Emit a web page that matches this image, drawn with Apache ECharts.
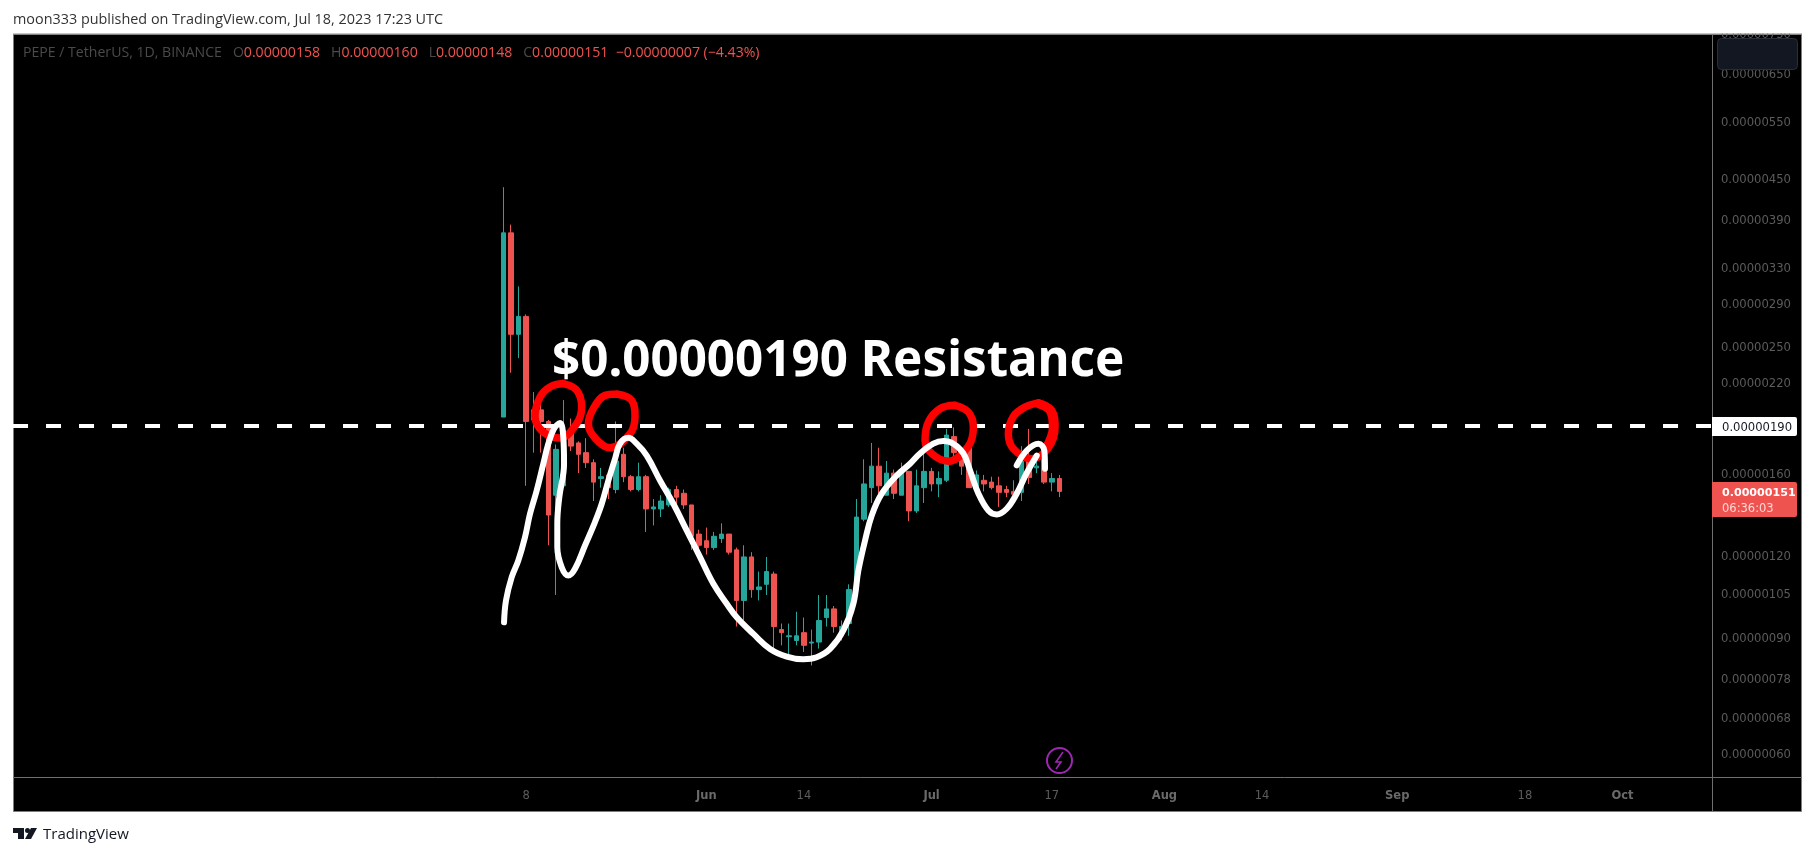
<!DOCTYPE html>
<html>
<head>
<meta charset="utf-8">
<title>PEPE / TetherUS</title>
<script src="https://cdn.jsdelivr.net/npm/echarts@6/dist/echarts.min.js"></script>
<style>
  html, body { margin: 0; padding: 0; background: #fff; }
  #chart { width: 1815px; height: 856px; }
</style>
</head>
<body>
<div id="chart"></div>
<script>
// prices are kept in units of 0.00000001 USDT, days are counted from the first candle (May 5)
var openV = [196,374,262,279,194,201,193,149,154,186,179,173,167,158,160,152,172,159,152,159,142,142,144,152,150,144,130,127,124,128,130,123,103,120,107,109,113,93,90.7,89.5,92,88.7,89,97,100,92,95,107,137,153,165,149,161,149,162,141,153,162,155,157,183,172,177,153,157,156,154,152,151,150.5,168,164,176,156,158];
var closeV = [374,262,279,193,201,193,139,175,187,177,172,167,156,159,153,168,159,152,159,142,143,146,152,148,144,129,125,124,129,130,122,103,120,107,108,114,94,92,91,91,88,89,96,100,94,94,107,138,155,165,154,161,150,162,141,154,162,155,158,184,173,165,153,160,155,153,150.5,150.5,149.5,168,158.5,165,156,158,151];
var lowV = [196,229,241,154,173,173,125,105,154,174,161,164,146,153,147,150,156,151,151,131,134,138,143,143,142,123,123,121,123,126,121,94,96,104,103,105,87,88,85,88,86,82,87,94,92,89.5,91,107,136,145,149,149,147,149,136,140,145,151,148,156,171,160,153,151.5,151,152,143,148,145,146,155,161,155,151,148];
var highV = [439,385,310,281,214,206,194,178,208,195,180,182,169,164,161,193,176,160,167,160,147,149,153,154,152,144,132,133,131,135,130,124,125,122,114,120,114,95,95,99,97,93,105,105,101,96,109,147,169,179,176,168,163,167,162,163,172,164,162,188,189,176,178,162.5,160,159,159,154,157,177,188,172,178,161,160];

var axisStartDate = '2023-03-01';
var dayCount = 226;
var firstCandleIndex = 65;

var priceTicks = [750,650,550,450,390,330,290,250,220,190,160,140,120,105,90,78,68,60];
var dateTicks = { '2023-05-08': '8', '2023-06-14': '14', '2023-07-17': '17', '2023-08-14': '14', '2023-09-18': '18' };
var monthTicks = { '2023-06-01': 'Jun', '2023-07-01': 'Jul', '2023-08-01': 'Aug', '2023-09-01': 'Sep', '2023-10-01': 'Oct' };

var resistancePrice = 190;
var lastPrice = 151;

// hand drawn strokes, [days from May 5, price]
var cupStroke = [[0.07,95.4],[0.33,103],[1.09,111.8],[1.97,118.5],[2.86,128.6],[3.53,139.6],[4.42,151.5],[5.3,166.4],[5.97,178.5],[6.72,188.1],[7.52,191.9],[7.96,182.7],[8.06,166.4],[7.43,148],[7.16,134.8],[7.16,124.2],[7.75,115.7],[8.63,112.4],[9.52,115.1],[10.85,124.9],[12.18,135.6],[13.08,144.6],[13.96,156.9],[14.85,169.3],[15.51,178.5],[16.62,182.2],[17.73,178.5],[19.07,171.2],[20.84,156.9],[22.61,144.6],[24.39,131.7],[26.17,119.9],[27.94,109.2],[29.72,101.8],[31.05,97.1],[33.27,91.6],[35.49,86.9],[37.71,84.6],[39.92,83.8],[41.7,84.4],[43.48,86.9],[45.25,92.7],[46.58,101.8],[47.25,114.4],[48.14,127.1],[49.03,138.8],[50.36,149.8],[52.36,159.7],[54.13,166.4],[55.46,172.5],[57.23,178.5],[58.56,180.2],[59.9,178.5],[61.23,172.5],[62.12,162.5],[63.24,149.8],[64.56,141.2],[65.67,139.3],[67,142.1],[68.33,149.8],[69.67,161.1],[71,171.2]];
var hookStroke = [[68.33,165.4],[69.67,174.3],[71.21,178.5],[72.01,174.3],[72.1,163.5]];
var circleA = [[7.96,220.4],[9.74,215.3],[10.41,203],[9.74,191.5],[7.52,182.1],[5.3,185.9],[4.19,196.4],[4.86,210.2],[6.19,217.8],[7.96,220.4]];
var circleB = [[15.07,212.5],[17.07,207.8],[17.51,196.4],[16.84,184.8],[14.18,176],[12.18,182.1],[11.3,191.5],[11.96,201.9],[13.52,211.5],[15.07,212.5]];
var circleC = [[60.12,204.2],[61.9,199.4],[62.56,189.2],[61.9,176.9],[59.23,167.9],[57.01,172.5],[56.13,180.6],[56.57,192.6],[58.12,201.8],[60.12,204.2]];
var circleD = [[71.22,206],[72.99,200.6],[73.44,189.2],[72.55,176],[70.33,169.3],[67.89,175.4],[67.22,184.8],[67.89,196.4],[69.44,203],[71.22,206]];
// the pen went over this side twice
var circleDHeavy = [[71.22,205.4],[72.8,200.4],[73.2,189.2],[72.4,177]];

function fmtPrice(v) {
    return (v / 1e8).toFixed(8);
}

var categories = [];
var d0 = new Date(axisStartDate + 'T00:00:00Z');
for (var i = 0; i < dayCount; i++) {
    categories.push(new Date(d0.getTime() + i * 86400000).toISOString().slice(0, 10));
}

var candles = [];
for (var i = 0; i < firstCandleIndex; i++) {
    candles.push('-');
}
for (var i = 0; i < openV.length; i++) {
    candles.push([openV[i], closeV[i], lowV[i], highV[i]]);
}

function strokeSeries(points, color, width) {
    return {
        type: 'line',
        xAxisIndex: 1,
        yAxisIndex: 0,
        data: points,
        smooth: 0.4,
        symbol: 'none',
        silent: true,
        z: 5,
        lineStyle: { color: color, width: width, cap: 'round', join: 'round' }
    };
}

var FONT = '"DejaVu Sans", sans-serif';
var TEXT_FONT = '"Open Sans", sans-serif';
var GREY = '#5c5c5c';
var LINE = '#6f6f6f';

var option = {
    animation: false,
    backgroundColor: '#ffffff',
    grid: { left: 11.6, top: 34.5, width: 1697.3, height: 743, containLabel: false },
    xAxis: [{
        type: 'category',
        data: categories,
        position: 'bottom',
        axisLine: { show: true, onZero: false, lineStyle: { color: LINE, width: 1 } },
        axisTick: { show: false },
        splitLine: { show: false },
        axisLabel: {
            margin: 13,
            interval: function (idx, val) { return !!(dateTicks[val] || monthTicks[val]); },
            formatter: function (val) {
                return monthTicks[val] ? '{m|' + monthTicks[val] + '}' : '{d|' + dateTicks[val] + '}';
            },
            rich: {
                m: { color: '#6a6a6a', fontFamily: FONT, fontSize: 11.5, fontWeight: 'bold' },
                d: { color: GREY, fontFamily: FONT, fontSize: 11.5 }
            }
        }
    }, {
        type: 'value',
        show: false,
        min: -65.5,
        max: 160.5
    }],
    yAxis: [{
        type: 'log',
        logBase: 10,
        min: 55.35,
        max: 750,
        position: 'right',
        offset: 3,
        axisLine: { show: true, onZero: false, lineStyle: { color: LINE, width: 1 } },
        axisTick: { show: false },
        splitLine: { show: false },
        axisLabel: {
            margin: 9,
            color: GREY,
            fontFamily: FONT,
            fontSize: 11.6,
            hideOverlap: false,
            padding: [3, 0, 0, 0],
            customValues: priceTicks,
            formatter: function (v) { return fmtPrice(v); }
        }
    }],
    series: [{
        type: 'candlestick',
        xAxisIndex: 0,
        yAxisIndex: 0,
        data: candles,
        barWidth: 5,
        silent: true,
        itemStyle: { color: '#26a69a', color0: '#ef5350', borderColor: '#26a69a', borderColor0: '#ef5350', borderWidth: 1 }
    }, {
        type: 'line',
        xAxisIndex: 1,
        yAxisIndex: 0,
        data: [[-65.31, resistancePrice], [160.9, resistancePrice]],
        symbol: 'none',
        silent: true,
        clip: false,
        z: 4,
        lineStyle: { color: '#ffffff', width: 4, type: [15, 18] }
    },
        strokeSeries(circleA, '#ff0000', 7.5),
        strokeSeries(circleB, '#ff0000', 7.5),
        strokeSeries(circleC, '#ff0000', 7.5),
        strokeSeries(circleD, '#ff0000', 7.5),
        strokeSeries(circleDHeavy, '#ff0000', 9),
        strokeSeries(cupStroke, '#ffffff', 6),
        strokeSeries(hookStroke, '#ffffff', 6)
    ],
    graphic: [
        { type: 'rect', z: -10, shape: { x: 13.5, y: 34.5, width: 1788, height: 777 }, style: { fill: '#000000', stroke: '#7d7d7d', lineWidth: 1 } },
        { type: 'rect', z: 100, shape: { x: 0, y: 0, width: 1815, height: 33.5 }, style: { fill: '#ffffff' } },
        { type: 'rect', z: 100, shape: { x: 0, y: 34, width: 13, height: 778 }, style: { fill: '#ffffff' } },
        { type: 'line', z: 101, shape: { x1: 13, y1: 34, x2: 1802, y2: 34 }, style: { stroke: '#8a8a8a', lineWidth: 1 } },
        { type: 'line', z: 1, shape: { x1: 1712.5, y1: 777, x2: 1712.5, y2: 811 }, style: { stroke: LINE, lineWidth: 1 } },
        { type: 'line', z: 1, shape: { x1: 1708, y1: 777.5, x2: 1802, y2: 777.5 }, style: { stroke: LINE, lineWidth: 1 } },
        { type: 'text', z: 101, style: { x: 13, y: 20, text: 'moon333 published on TradingView.com, Jul 18, 2023 17:23 UTC', fill: '#333333', font: '14.4px ' + TEXT_FONT, textVerticalAlign: 'middle' } },
        {
            type: 'text', z: 50, style: {
                x: 23, y: 53, textVerticalAlign: 'middle',
                text: '{g|PEPE / TetherUS, 1D, BINANCE   O}{r|0.00000158}{g|   H}{r|0.00000160}{g|   L}{r|0.00000148}{g|   C}{r|0.00000151  \u22120.00000007 (\u22124.43%)}',
                rich: {
                    g: { fill: '#4a4a4a', font: '14.1px ' + TEXT_FONT },
                    r: { fill: '#ef5350', font: '14.1px ' + TEXT_FONT }
                }
            }
        },
        { type: 'text', z: 20, style: { x: 552, y: 362, text: '$0.00000190 Resistance', fill: '#ffffff', font: 'bold 49.3px "Noto Sans", sans-serif', textVerticalAlign: 'middle' } },
        { type: 'rect', z: 50, shape: { x: 1717.5, y: 38.5, width: 80, height: 31, r: 4 }, style: { fill: '#131722', stroke: '#2a2e39', lineWidth: 1 } },
        { type: 'rect', z: 50, shape: { x: 1712, y: 417, width: 85, height: 19, r: [0, 2, 2, 0] }, style: { fill: '#ffffff' } },
        { type: 'text', z: 51, style: { x: 1722, y: 428, text: fmtPrice(resistancePrice), fill: '#131722', font: '11.6px ' + FONT, textVerticalAlign: 'middle' } },
        { type: 'rect', z: 50, shape: { x: 1712, y: 482, width: 85, height: 35, r: [0, 2, 2, 0] }, style: { fill: '#ef5350' } },
        { type: 'text', z: 51, style: { x: 1722, y: 493, text: fmtPrice(lastPrice), fill: '#ffffff', font: 'bold 11.1px ' + FONT, textVerticalAlign: 'middle' } },
        { type: 'text', z: 51, style: { x: 1722, y: 509, text: '06:36:03', fill: '#ffd6d4', font: '11.5px ' + FONT, textVerticalAlign: 'middle' } },
        { type: 'circle', z: 20, shape: { cx: 1059.5, cy: 760.5, r: 12.5 }, style: { fill: 'none', stroke: '#9c27b0', lineWidth: 2 } },
        { type: 'polyline', z: 20, shape: { points: [[1063, 752], [1056, 762], [1061, 762], [1056, 769]] }, style: { fill: 'none', stroke: '#9c27b0', lineWidth: 1.6 } },
        { type: 'polygon', z: 20, shape: { points: [[13, 828], [24, 828], [24, 839], [18, 839], [18, 833], [13, 833]] }, style: { fill: '#131722' } },
        { type: 'circle', z: 20, shape: { cx: 27.5, cy: 830.5, r: 2.5 }, style: { fill: '#131722' } },
        { type: 'polygon', z: 20, shape: { points: [[31, 828], [37, 828], [31, 839], [25, 839]] }, style: { fill: '#131722' } },
        { type: 'text', z: 20, style: { x: 43, y: 835, text: 'TradingView', fill: '#131722', font: '15px ' + TEXT_FONT, textVerticalAlign: 'middle' } }
    ]
};

var chart = echarts.init(document.getElementById('chart'), null, { renderer: 'canvas' });
chart.setOption(option);
</script>
</body>
</html>
